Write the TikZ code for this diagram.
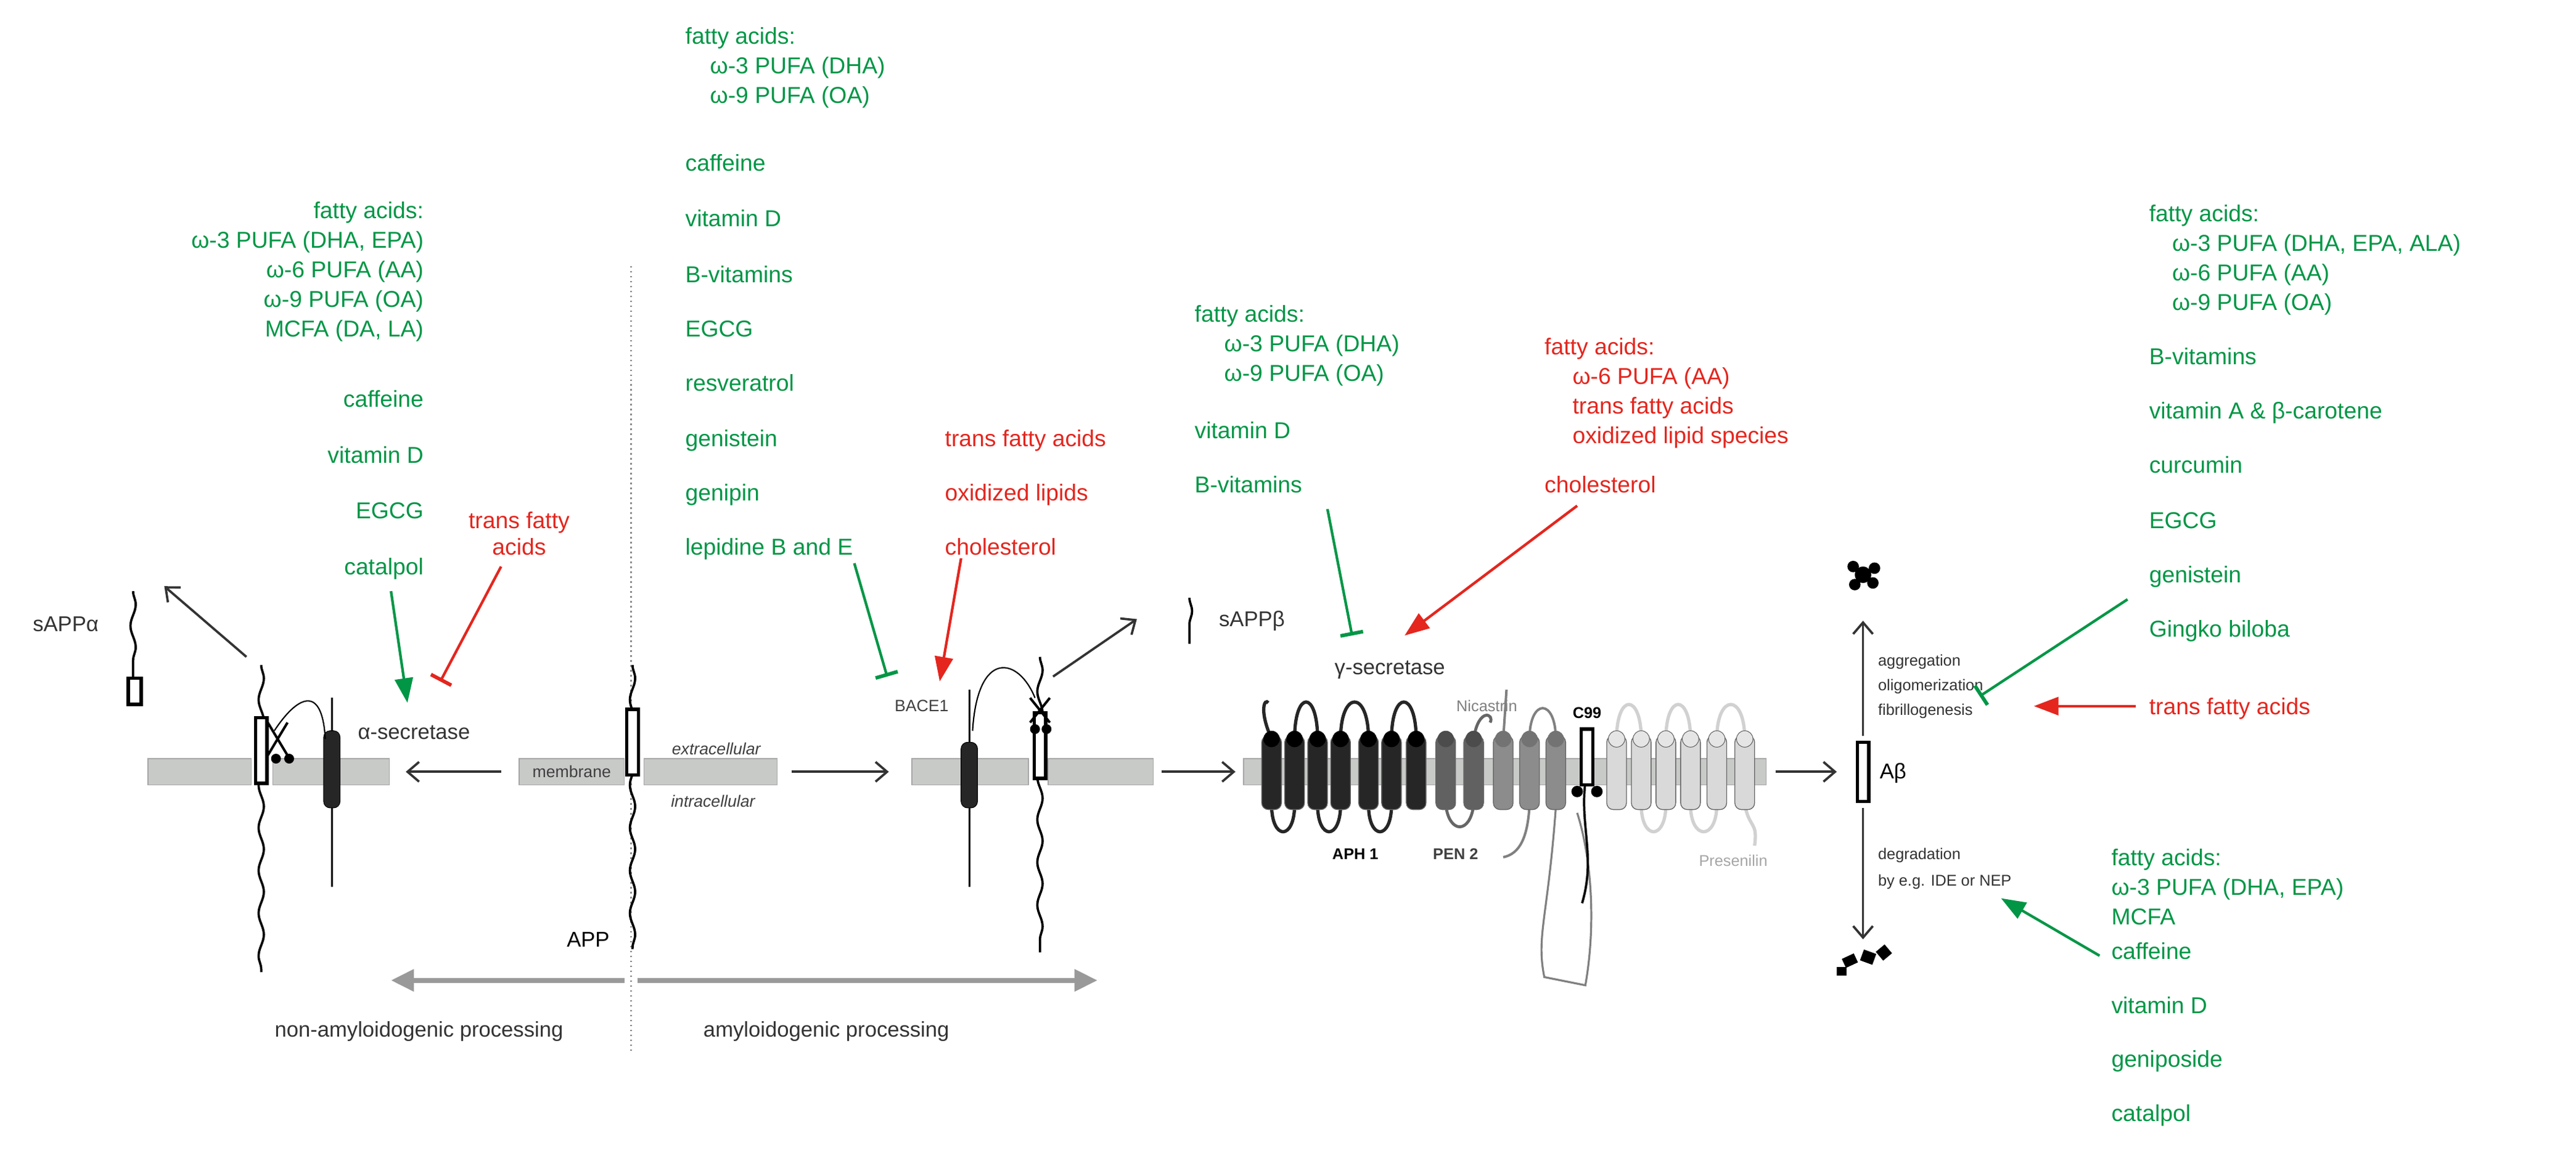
\documentclass[tikz,border=0pt]{standalone}
\usepackage{fontspec}
\setmainfont{Liberation Sans}
\usetikzlibrary{arrows.meta,decorations.pathmorphing}
\definecolor{gg}{RGB}{0,150,70}
\definecolor{rr}{RGB}{228,38,30}
\definecolor{mem}{RGB}{200,202,200}
\begin{document}
\begin{tikzpicture}[x=1pt,y=-1pt,
 gt/.style={text=gg,font=\fontsize{14}{16}\selectfont,inner sep=0pt},
 rt/.style={text=rr,font=\fontsize{14}{16}\selectfont,inner sep=0pt},
 bt/.style={text=black!80,font=\fontsize{13}{15}\selectfont,inner sep=0pt},
 st/.style={text=black!80,font=\fontsize{9.5}{11}\selectfont,inner sep=0pt},
 garr/.style={gg,line width=1.6,-{Triangle[length=15,width=11]}},
 rarr/.style={rr,line width=1.6,-{Triangle[length=15,width=11]}},
 gbar/.style={gg,line width=1.6,-{Bar[width=14,line width=2.2]}},
 rbar/.style={rr,line width=1.6,-{Bar[width=14,line width=2.2]}},
 karr/.style={black!80,line width=1.4,-{Straight Barb[length=7,width=12]}},
 membar/.style={fill=mem,draw=black!35,line width=0.6},
 wavy/.style={black,line width=1.4,decorate,decoration={snake,segment length=26,amplitude=1.6}},
 abox/.style={draw=black,line width=2,fill=white,minimum width=7,minimum height=40,inner sep=0pt},
 cyl/.style={draw=black!60,line width=0.5,rounded corners=4}]
\useasboundingbox (0,0) rectangle (1568,700);
\draw[black!45,dotted,line width=1] (384,162) -- (384,640);
\coordinate (gl) at (238,597); \coordinate (gr) at (668,597);
\draw[black!40,line width=3,-{Triangle[length=14,width=13]}] (380,597) -- (gl);
\draw[black!40,line width=3,-{Triangle[length=14,width=13]}] (388,597) -- (gr);
\node[bt] (nap) at (255,628) {non-amyloidogenic processing};
\node[bt] (ap) at (503,628) {amyloidogenic processing};
\draw[membar] (90,462) rectangle (153,478);
\draw[membar] (166,462) rectangle (237,478);
\draw[membar] (316,462) rectangle (380,478);
\draw[membar] (392,462) rectangle (473,478);
\draw[membar] (555,462) rectangle (626,478);
\draw[membar] (638,462) rectangle (702,478);
\draw[membar] (757,462) rectangle (1075,478);
\node[font=\fontsize{10}{12}\selectfont,text=black!75,inner sep=0pt] (memlab) at (348,470) {membrane};
\node[font=\itshape\fontsize{10}{12}\selectfont,text=black!75,inner sep=0pt] (ext) at (436,456) {extracellular};
\node[font=\itshape\fontsize{10}{12}\selectfont,text=black!75,inner sep=0pt] (int) at (434,488) {intracellular};
\draw[wavy] (385,405) -- (385,578);
\node[abox] (appbox) at (385,452) {};
\node[font=\fontsize{13}{15}\selectfont,inner sep=0pt] (applab) at (358,572) {APP};
\draw[wavy] (159,405) -- (159,592);
\node[abox] (lbox) at (159,457) {};
\draw[black,line width=1.2] (202,425) -- (202,540);
\draw[fill=black!85,rounded corners=4] (197,445) rectangle (207,492);
\node[bt] (asec) at (252,446) {α-secretase};
\draw[black,line width=0.8] (198,450) .. controls (196,415) and (180,425) .. (167,445);
\draw[black,line width=1.5] (163,440) -- (175,460) (175,440) -- (163,460);
\fill (168,462) circle (3) (176,462) circle (3);
\draw[wavy] (81,360) -- (81,412);
\node[abox,minimum height=16,minimum width=8] (sab) at (82,421) {};
\node[font=\fontsize{13}{15}\selectfont,text=black!80,inner sep=0pt] (salab) at (40,380) {sAPPα};
\coordinate (sa1) at (150,400); \coordinate (sa2) at (100,357);
\draw[karr] (sa1) -- (sa2);
\draw[black,line width=1.2] (590,420) -- (590,540);
\draw[fill=black!85,rounded corners=4] (585,452) rectangle (595,492);
\node[font=\fontsize{10}{12}\selectfont,text=black!75,inner sep=0pt] (bace) at (561,430) {BACE1};
\draw[wavy] (633,400) -- (633,580);
\node[abox] (rbox) at (633,454) {};
\draw[black,line width=0.8] (592,445) .. controls (595,395) and (620,400) .. (630,425);
\draw[black,line width=1.5] (627,425) -- (639,440) (639,425) -- (627,440);
\fill (630,444) circle (3) (637,444) circle (3);
\coordinate (sb1) at (641,412); \coordinate (sb2) at (692,377);
\draw[karr] (sb1) -- (sb2);
\draw[wavy] (724,364) -- (724,392);
\node[font=\fontsize{13}{15}\selectfont,text=black!80,inner sep=0pt] (sblab) at (762,378) {sAPPβ};
\coordinate (pa1) at (305,470); \coordinate (pa2) at (247,470);
\draw[karr] (pa1) -- (pa2);
\coordinate (pb1) at (482,470); \coordinate (pb2) at (541,470);
\draw[karr] (pb1) -- (pb2);
\coordinate (pc1) at (707,470); \coordinate (pc2) at (752,470);
\draw[karr] (pc1) -- (pc2);
\coordinate (pd1) at (1081,470); \coordinate (pd2) at (1118,470);
\draw[karr] (pd1) -- (pd2);
\node[bt] (gsec) at (846,408) {γ-secretase};
\draw[black!85,line width=2] (774,450) .. controls (766,432) and (770,425) .. (772,428);
\foreach \a/\b in {788/802,816/833,847/862}{\draw[black!85,line width=2] (\a,450) .. controls (\a,420) and (\b,420) .. (\b,450);}
\foreach \a/\b in {774/788,802/816,833/847}{\draw[black!85,line width=2] (\a,490) .. controls (\a,512) and (\b,512) .. (\b,490);}
\draw[black!60,line width=1.8] (897,450) .. controls (900,430) and (910,435) .. (907,440);
\draw[black!60,line width=1.8] (880,490) .. controls (882,508) and (895,508) .. (897,490);
\draw[black!50,line width=1.5] (931,450) .. controls (931,425) and (947,425) .. (947,450);
\draw[black!50,line width=1.5] (915,450) -- (917,420);
\draw[black!50,line width=1.5] (931,490) .. controls (930,510) and (925,520) .. (915,522);
\draw[black!50,line width=1.2] (947,492) .. controls (942,560) and (935,570) .. (940,595) -- (965,600) .. controls (972,560) and (968,520) .. (960,495);
\foreach \a/\b in {984/999,1014/1029,1045/1062}{\draw[black!18,line width=2] (\a,450) .. controls (\a,422) and (\b,422) .. (\b,450);}
\foreach \a/\b in {999/1014,1029/1045}{\draw[black!18,line width=2] (\a,490) .. controls (\a,512) and (\b,512) .. (\b,490);}
\draw[black!18,line width=2] (1062,490) .. controls (1065,505) and (1070,500) .. (1068,515);
\foreach \x in {774,788,802,816,833,847,862}{\draw[cyl,fill=black!85] (\x-6,448) rectangle (\x+6,493); \fill[black] (\x,450) circle (5);}
\foreach \x in {880,897}{\draw[cyl,fill=black!62] (\x-6,448) rectangle (\x+6,493); \fill[black!70] (\x,450) circle (5);}
\foreach \x in {915,931,947}{\draw[cyl,fill=black!45] (\x-6,448) rectangle (\x+6,493); \fill[black!55] (\x,450) circle (5);}
\foreach \x in {984,999,1014,1029,1045,1062}{\draw[cyl,fill=black!15] (\x-6,448) rectangle (\x+6,493); \draw[black!60,fill=black!10] (\x,450) circle (5);}
\draw[black,line width=1.4] (966,470) .. controls (960,500) and (972,520) .. (963,550);
\fill (960,482) circle (3.5) (972,482) circle (3.5);
\node[abox,minimum height=34] (c99box) at (966,461) {};
\node[font=\bfseries\fontsize{9.5}{11}\selectfont,inner sep=0pt] (c99) at (966,434) {C99};
\node[font=\fontsize{9.5}{11}\selectfont,text=black!50,inner sep=0pt] (nic) at (905,430) {Nicastrin};
\node[font=\bfseries\fontsize{9.5}{11}\selectfont,inner sep=0pt] (aph) at (825,520) {APH 1};
\node[font=\bfseries\fontsize{9.5}{11}\selectfont,text=black!75,inner sep=0pt] (pen) at (886,520) {PEN 2};
\node[font=\fontsize{9.5}{11}\selectfont,text=black!35,inner sep=0pt] (pres) at (1055,524) {Presenilin};
\node[abox,minimum height=36] (ab) at (1134,470) {};
\node[font=\fontsize{13}{15}\selectfont,inner sep=0pt,anchor=west] (ablab) at (1144,471) {Aβ};
\coordinate (agg) at (1134,378);
\draw[karr] (1134,448) -- (agg);
\fill[black] (1134,350) circle (5) (1128,345) circle (3.5) (1141,346) circle (3.5) (1129,356) circle (3.5) (1140,355) circle (3.5);
\node[st,anchor=west] (ag1) at (1143,403) {aggregation};
\node[st,anchor=west] (ag2) at (1143,418) {oligomerization};
\node[st,anchor=west] (ag3) at (1143,433) {fibrillogenesis};
\coordinate (deg) at (1134,572);
\draw[karr] (1134,492) -- (deg);
\node[st,anchor=west] (dg1) at (1143,521) {degradation};
\node[st,anchor=west] (dg2) at (1143,537) {by e.g. IDE or NEP};
\fill[black,rotate around={25:(1126,585)}] (1122,582) rectangle (1130,588);
\fill[black,rotate around={-20:(1136,583)}] (1133,579) rectangle (1141,586);
\fill[black,rotate around={40:(1146,580)}] (1143,577) rectangle (1150,584);
\fill[black] (1118,589) rectangle (1124,594);
\begin{scope}[every node/.append style={anchor=base east}]
\node[gt] (l1) at (258,133) {fatty acids:};
\node[gt] (l2) at (258,151) {ω-3 PUFA (DHA, EPA)};
\node[gt] (l3) at (258,169) {ω-6 PUFA (AA)};
\node[gt] (l4) at (258,187) {ω-9 PUFA (OA)};
\node[gt] (l5) at (258,205) {MCFA (DA, LA)};
\node[gt] (l6) at (258,248) {caffeine};
\node[gt] (l7) at (258,282) {vitamin D};
\node[gt] (l8) at (258,316) {EGCG};
\node[gt] (l9) at (258,350) {catalpol};
\end{scope}
\node[rt,align=center] (lr) at (316,325) {trans fatty\\acids};
\draw[garr] (238,360) -- (248,428);
\draw[rbar] (305,345) -- (268,415);
\begin{scope}[every node/.append style={anchor=base west}]
\node[gt] (m1) at (417,27) {fatty acids:};
\node[gt] (m2) at (432,45) {ω-3 PUFA (DHA)};
\node[gt] (m3) at (432,63) {ω-9 PUFA (OA)};
\node[gt] (m4) at (417,104) {caffeine};
\node[gt] (m5) at (417,138) {vitamin D};
\node[gt] (m6) at (417,172) {B-vitamins};
\node[gt] (m7) at (417,205) {EGCG};
\node[gt] (m8) at (417,238) {resveratrol};
\node[gt] (m9) at (417,272) {genistein};
\node[gt] (m10) at (417,305) {genipin};
\node[gt] (m11) at (417,338) {lepidine B and E};
\node[rt] (mr1) at (575,272) {trans fatty acids};
\node[rt] (mr2) at (575,305) {oxidized lipids};
\node[rt] (mr3) at (575,338) {cholesterol};
\node[gt] (c1) at (727,196) {fatty acids:};
\node[gt] (c2) at (745,214) {ω-3 PUFA (DHA)};
\node[gt] (c3) at (745,232) {ω-9 PUFA (OA)};
\node[gt] (c4) at (727,267) {vitamin D};
\node[gt] (c5) at (727,300) {B-vitamins};
\node[rt] (d1) at (940,216) {fatty acids:};
\node[rt] (d2) at (957,234) {ω-6 PUFA (AA)};
\node[rt] (d3) at (957,252) {trans fatty acids};
\node[rt] (d4) at (957,270) {oxidized lipid species};
\node[rt] (d5) at (940,300) {cholesterol};
\node[gt] (r1) at (1308,135) {fatty acids:};
\node[gt] (r2) at (1322,153) {ω-3 PUFA (DHA, EPA, ALA)};
\node[gt] (r3) at (1322,171) {ω-6 PUFA (AA)};
\node[gt] (r4) at (1322,189) {ω-9 PUFA (OA)};
\node[gt] (r5) at (1308,222) {B-vitamins};
\node[gt] (r6) at (1308,255) {vitamin A \& β-carotene};
\node[gt] (r7) at (1308,288) {curcumin};
\node[gt] (r8) at (1308,322) {EGCG};
\node[gt] (r9) at (1308,355) {genistein};
\node[gt] (r10) at (1308,388) {Gingko biloba};
\node[rt] (rr1) at (1308,435) {trans fatty acids};
\node[gt] (b1) at (1285,527) {fatty acids:};
\node[gt] (b2) at (1285,545) {ω-3 PUFA (DHA, EPA)};
\node[gt] (b3) at (1285,563) {MCFA};
\node[gt] (b4) at (1285,584) {caffeine};
\node[gt] (b5) at (1285,617) {vitamin D};
\node[gt] (b6) at (1285,650) {geniposide};
\node[gt] (b7) at (1285,683) {catalpol};
\end{scope}
\draw[gbar] (520,343) -- (540,412);
\draw[rarr] (585,340) -- (572,415);
\draw[gbar] (808,310) -- (823,387);
\draw[rarr] (960,308) -- (855,387);
\draw[gbar] (1295,365) -- (1205,424);
\draw[rarr] (1300,430) -- (1238,430);
\draw[garr] (1278,582) -- (1218,547);
\end{tikzpicture}
\end{document}
